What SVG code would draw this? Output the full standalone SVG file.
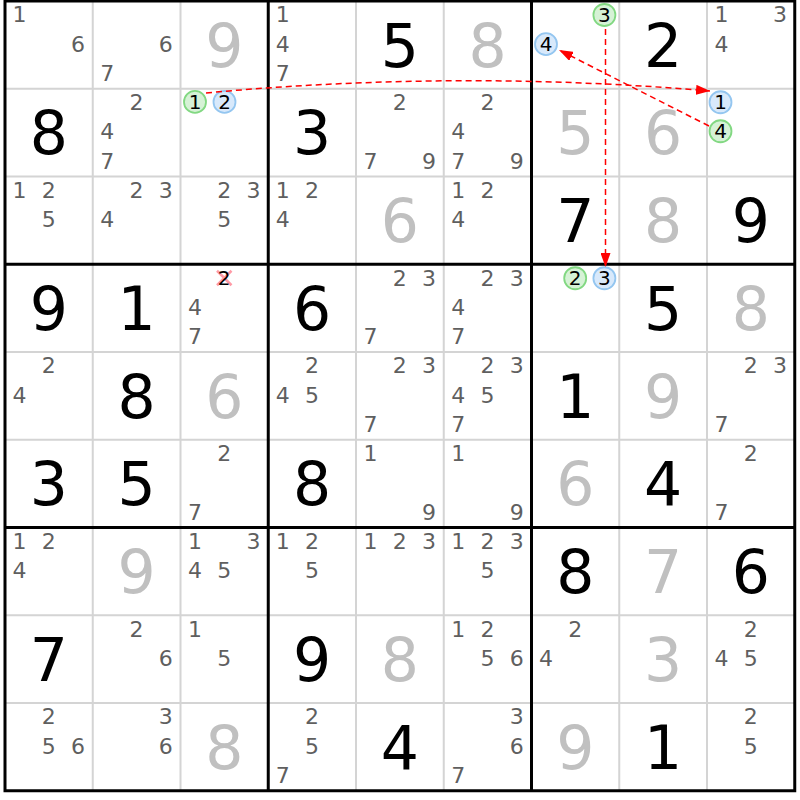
<svg xmlns="http://www.w3.org/2000/svg" width="800" height="800" viewBox="0 0 800 800">
<style>
text{font-family:"DejaVu Sans","Liberation Sans",sans-serif;text-anchor:middle}
.c{font-size:22px;fill:#5f5f5f}
.g{font-size:60px;fill:#000}
.p{font-size:60px;fill:#c0c0c0}
.k{font-size:20px;fill:#000}
.thin{stroke:#d4d4d4;stroke-width:2}
.thick{stroke:#000;stroke-width:3}
.cg{fill:#d6f2d6;stroke:#82d882;stroke-width:1.8}
.cb{fill:#d8e9fb;stroke:#94c6f0;stroke-width:1.8}
.ar{fill:none;stroke:#f00;stroke-width:1.5;stroke-dasharray:6 4}
</style>
<defs>
<marker id="ah" markerWidth="14" markerHeight="10" refX="14" refY="5" orient="auto" markerUnits="userSpaceOnUse"><path d="M0,0 L14,5 L0,10 z" fill="#f00"/></marker>
</defs>
<rect x="0" y="0" width="800" height="800" fill="#fff"/>
<g id="grid">
<path class="thin" d="M92.75,1V790.75M180.5,1V790.75M356,1V790.75M443.75,1V790.75M619.25,1V790.75M707,1V790.75M5,88.75H794.75M5,176.5H794.75M5,352H794.75M5,439.75H794.75M5,615.25H794.75M5,703H794.75"/>
<path class="thick" d="M268.25,1V790.75M531.5,1V790.75M5,264.25H794.75M5,527.5H794.75"/>
<rect class="thick" x="5" y="1" width="789.75" height="789.75" fill="none"/>
</g>
<g id="cells">
<!-- row 0 -->
<g id="r0c0" transform="translate(5,1)"><text class="c" x="14.5" y="21.4">1</text><text class="c" x="72.9" y="50.6">6</text></g>
<g id="r0c1" transform="translate(92.75,1)"><text class="c" x="72.9" y="50.6">6</text><text class="c" x="14.5" y="79.8">7</text></g>
<g id="r0c2" transform="translate(180.5,1)"><text class="p" x="43.9" y="65.5">9</text></g>
<g id="r0c3" transform="translate(268.25,1)"><text class="c" x="14.5" y="21.4">1</text><text class="c" x="14.5" y="50.6">4</text><text class="c" x="14.5" y="79.8">7</text></g>
<g id="r0c4" transform="translate(356,1)"><text class="g" x="43.9" y="65.5">5</text></g>
<g id="r0c5" transform="translate(443.75,1)"><text class="p" x="43.9" y="65.5">8</text></g>
<g id="r0c6" transform="translate(531.5,1)"><circle class="cg" cx="72.9" cy="14" r="11"/><text class="k" x="72.9" y="21.2">3</text><circle class="cb" cx="14.5" cy="43.2" r="11"/><text class="k" x="14.5" y="50.4">4</text></g>
<g id="r0c7" transform="translate(619.25,1)"><text class="g" x="43.9" y="65.5">2</text></g>
<g id="r0c8" transform="translate(707,1)"><text class="c" x="14.5" y="21.4">1</text><text class="c" x="72.9" y="21.4">3</text><text class="c" x="14.5" y="50.6">4</text></g>
<!-- row 1 -->
<g id="r1c0" transform="translate(5,88.75)"><text class="g" x="43.9" y="65.5">8</text></g>
<g id="r1c1" transform="translate(92.75,88.75)"><text class="c" x="43.7" y="21.4">2</text><text class="c" x="14.5" y="50.6">4</text><text class="c" x="14.5" y="79.8">7</text></g>
<g id="r1c2" transform="translate(180.5,88.75)"><circle class="cg" cx="14.5" cy="13.2" r="11"/><text class="k" x="14.5" y="20.4">1</text><circle class="cb" cx="44" cy="13.2" r="11"/><text class="k" x="44" y="20.4">2</text></g>
<g id="r1c3" transform="translate(268.25,88.75)"><text class="g" x="43.9" y="65.5">3</text></g>
<g id="r1c4" transform="translate(356,88.75)"><text class="c" x="43.7" y="21.4">2</text><text class="c" x="14.5" y="79.8">7</text><text class="c" x="72.9" y="79.8">9</text></g>
<g id="r1c5" transform="translate(443.75,88.75)"><text class="c" x="43.7" y="21.4">2</text><text class="c" x="14.5" y="50.6">4</text><text class="c" x="14.5" y="79.8">7</text><text class="c" x="72.9" y="79.8">9</text></g>
<g id="r1c6" transform="translate(531.5,88.75)"><text class="p" x="43.9" y="65.5">5</text></g>
<g id="r1c7" transform="translate(619.25,88.75)"><text class="p" x="43.9" y="65.5">6</text></g>
<g id="r1c8" transform="translate(707,88.75)"><circle class="cb" cx="13.5" cy="13.5" r="11"/><text class="k" x="13.5" y="20.7">1</text><circle class="cg" cx="13.5" cy="42.5" r="11"/><text class="k" x="13.5" y="49.7">4</text></g>
<!-- row 2 -->
<g id="r2c0" transform="translate(5,176.5)"><text class="c" x="14.5" y="21.4">1</text><text class="c" x="43.7" y="21.4">2</text><text class="c" x="43.7" y="50.6">5</text></g>
<g id="r2c1" transform="translate(92.75,176.5)"><text class="c" x="43.7" y="21.4">2</text><text class="c" x="72.9" y="21.4">3</text><text class="c" x="14.5" y="50.6">4</text></g>
<g id="r2c2" transform="translate(180.5,176.5)"><text class="c" x="43.7" y="21.4">2</text><text class="c" x="72.9" y="21.4">3</text><text class="c" x="43.7" y="50.6">5</text></g>
<g id="r2c3" transform="translate(268.25,176.5)"><text class="c" x="14.5" y="21.4">1</text><text class="c" x="43.7" y="21.4">2</text><text class="c" x="14.5" y="50.6">4</text></g>
<g id="r2c4" transform="translate(356,176.5)"><text class="p" x="43.9" y="65.5">6</text></g>
<g id="r2c5" transform="translate(443.75,176.5)"><text class="c" x="14.5" y="21.4">1</text><text class="c" x="43.7" y="21.4">2</text><text class="c" x="14.5" y="50.6">4</text></g>
<g id="r2c6" transform="translate(531.5,176.5)"><text class="g" x="43.9" y="65.5">7</text></g>
<g id="r2c7" transform="translate(619.25,176.5)"><text class="p" x="43.9" y="65.5">8</text></g>
<g id="r2c8" transform="translate(707,176.5)"><text class="g" x="43.9" y="65.5">9</text></g>
<!-- row 3 -->
<g id="r3c0" transform="translate(5,264.25)"><text class="g" x="43.9" y="65.5">9</text></g>
<g id="r3c1" transform="translate(92.75,264.25)"><text class="g" x="43.9" y="65.5">1</text></g>
<g id="r3c2" transform="translate(180.5,264.25)"><path d="M36.5,6.5L51,21M51,6.5L36.5,21" stroke="#ff9aa6" stroke-width="2.5"/><text class="k" x="43.7" y="21.2">2</text><text class="c" x="14.5" y="50.6">4</text><text class="c" x="14.5" y="79.8">7</text></g>
<g id="r3c3" transform="translate(268.25,264.25)"><text class="g" x="43.9" y="65.5">6</text></g>
<g id="r3c4" transform="translate(356,264.25)"><text class="c" x="43.7" y="21.4">2</text><text class="c" x="72.9" y="21.4">3</text><text class="c" x="14.5" y="79.8">7</text></g>
<g id="r3c5" transform="translate(443.75,264.25)"><text class="c" x="43.7" y="21.4">2</text><text class="c" x="72.9" y="21.4">3</text><text class="c" x="14.5" y="50.6">4</text><text class="c" x="14.5" y="79.8">7</text></g>
<g id="r3c6" transform="translate(531.5,264.25)"><circle class="cg" cx="43.7" cy="14" r="11"/><text class="k" x="43.7" y="21.2">2</text><circle class="cb" cx="72.9" cy="14" r="11"/><text class="k" x="72.9" y="21.2">3</text></g>
<g id="r3c7" transform="translate(619.25,264.25)"><text class="g" x="43.9" y="65.5">5</text></g>
<g id="r3c8" transform="translate(707,264.25)"><text class="p" x="43.9" y="65.5">8</text></g>
<!-- row 4 -->
<g id="r4c0" transform="translate(5,352)"><text class="c" x="43.7" y="21.4">2</text><text class="c" x="14.5" y="50.6">4</text></g>
<g id="r4c1" transform="translate(92.75,352)"><text class="g" x="43.9" y="65.5">8</text></g>
<g id="r4c2" transform="translate(180.5,352)"><text class="p" x="43.9" y="65.5">6</text></g>
<g id="r4c3" transform="translate(268.25,352)"><text class="c" x="43.7" y="21.4">2</text><text class="c" x="14.5" y="50.6">4</text><text class="c" x="43.7" y="50.6">5</text></g>
<g id="r4c4" transform="translate(356,352)"><text class="c" x="43.7" y="21.4">2</text><text class="c" x="72.9" y="21.4">3</text><text class="c" x="14.5" y="79.8">7</text></g>
<g id="r4c5" transform="translate(443.75,352)"><text class="c" x="43.7" y="21.4">2</text><text class="c" x="72.9" y="21.4">3</text><text class="c" x="14.5" y="50.6">4</text><text class="c" x="43.7" y="50.6">5</text><text class="c" x="14.5" y="79.8">7</text></g>
<g id="r4c6" transform="translate(531.5,352)"><text class="g" x="43.9" y="65.5">1</text></g>
<g id="r4c7" transform="translate(619.25,352)"><text class="p" x="43.9" y="65.5">9</text></g>
<g id="r4c8" transform="translate(707,352)"><text class="c" x="43.7" y="21.4">2</text><text class="c" x="72.9" y="21.4">3</text><text class="c" x="14.5" y="79.8">7</text></g>
<!-- row 5 -->
<g id="r5c0" transform="translate(5,439.75)"><text class="g" x="43.9" y="65.5">3</text></g>
<g id="r5c1" transform="translate(92.75,439.75)"><text class="g" x="43.9" y="65.5">5</text></g>
<g id="r5c2" transform="translate(180.5,439.75)"><text class="c" x="43.7" y="21.4">2</text><text class="c" x="14.5" y="79.8">7</text></g>
<g id="r5c3" transform="translate(268.25,439.75)"><text class="g" x="43.9" y="65.5">8</text></g>
<g id="r5c4" transform="translate(356,439.75)"><text class="c" x="14.5" y="21.4">1</text><text class="c" x="72.9" y="79.8">9</text></g>
<g id="r5c5" transform="translate(443.75,439.75)"><text class="c" x="14.5" y="21.4">1</text><text class="c" x="72.9" y="79.8">9</text></g>
<g id="r5c6" transform="translate(531.5,439.75)"><text class="p" x="43.9" y="65.5">6</text></g>
<g id="r5c7" transform="translate(619.25,439.75)"><text class="g" x="43.9" y="65.5">4</text></g>
<g id="r5c8" transform="translate(707,439.75)"><text class="c" x="43.7" y="21.4">2</text><text class="c" x="14.5" y="79.8">7</text></g>
<!-- row 6 -->
<g id="r6c0" transform="translate(5,527.5)"><text class="c" x="14.5" y="21.4">1</text><text class="c" x="43.7" y="21.4">2</text><text class="c" x="14.5" y="50.6">4</text></g>
<g id="r6c1" transform="translate(92.75,527.5)"><text class="p" x="43.9" y="65.5">9</text></g>
<g id="r6c2" transform="translate(180.5,527.5)"><text class="c" x="14.5" y="21.4">1</text><text class="c" x="72.9" y="21.4">3</text><text class="c" x="14.5" y="50.6">4</text><text class="c" x="43.7" y="50.6">5</text></g>
<g id="r6c3" transform="translate(268.25,527.5)"><text class="c" x="14.5" y="21.4">1</text><text class="c" x="43.7" y="21.4">2</text><text class="c" x="43.7" y="50.6">5</text></g>
<g id="r6c4" transform="translate(356,527.5)"><text class="c" x="14.5" y="21.4">1</text><text class="c" x="43.7" y="21.4">2</text><text class="c" x="72.9" y="21.4">3</text></g>
<g id="r6c5" transform="translate(443.75,527.5)"><text class="c" x="14.5" y="21.4">1</text><text class="c" x="43.7" y="21.4">2</text><text class="c" x="72.9" y="21.4">3</text><text class="c" x="43.7" y="50.6">5</text></g>
<g id="r6c6" transform="translate(531.5,527.5)"><text class="g" x="43.9" y="65.5">8</text></g>
<g id="r6c7" transform="translate(619.25,527.5)"><text class="p" x="43.9" y="65.5">7</text></g>
<g id="r6c8" transform="translate(707,527.5)"><text class="g" x="43.9" y="65.5">6</text></g>
<!-- row 7 -->
<g id="r7c0" transform="translate(5,615.25)"><text class="g" x="43.9" y="65.5">7</text></g>
<g id="r7c1" transform="translate(92.75,615.25)"><text class="c" x="43.7" y="21.4">2</text><text class="c" x="72.9" y="50.6">6</text></g>
<g id="r7c2" transform="translate(180.5,615.25)"><text class="c" x="14.5" y="21.4">1</text><text class="c" x="43.7" y="50.6">5</text></g>
<g id="r7c3" transform="translate(268.25,615.25)"><text class="g" x="43.9" y="65.5">9</text></g>
<g id="r7c4" transform="translate(356,615.25)"><text class="p" x="43.9" y="65.5">8</text></g>
<g id="r7c5" transform="translate(443.75,615.25)"><text class="c" x="14.5" y="21.4">1</text><text class="c" x="43.7" y="21.4">2</text><text class="c" x="43.7" y="50.6">5</text><text class="c" x="72.9" y="50.6">6</text></g>
<g id="r7c6" transform="translate(531.5,615.25)"><text class="c" x="43.7" y="21.4">2</text><text class="c" x="14.5" y="50.6">4</text></g>
<g id="r7c7" transform="translate(619.25,615.25)"><text class="p" x="43.9" y="65.5">3</text></g>
<g id="r7c8" transform="translate(707,615.25)"><text class="c" x="43.7" y="21.4">2</text><text class="c" x="14.5" y="50.6">4</text><text class="c" x="43.7" y="50.6">5</text></g>
<!-- row 8 -->
<g id="r8c0" transform="translate(5,703)"><text class="c" x="43.7" y="21.4">2</text><text class="c" x="43.7" y="50.6">5</text><text class="c" x="72.9" y="50.6">6</text></g>
<g id="r8c1" transform="translate(92.75,703)"><text class="c" x="72.9" y="21.4">3</text><text class="c" x="72.9" y="50.6">6</text></g>
<g id="r8c2" transform="translate(180.5,703)"><text class="p" x="43.9" y="65.5">8</text></g>
<g id="r8c3" transform="translate(268.25,703)"><text class="c" x="43.7" y="21.4">2</text><text class="c" x="43.7" y="50.6">5</text><text class="c" x="14.5" y="79.8">7</text></g>
<g id="r8c4" transform="translate(356,703)"><text class="g" x="43.9" y="65.5">4</text></g>
<g id="r8c5" transform="translate(443.75,703)"><text class="c" x="72.9" y="21.4">3</text><text class="c" x="72.9" y="50.6">6</text><text class="c" x="14.5" y="79.8">7</text></g>
<g id="r8c6" transform="translate(531.5,703)"><text class="p" x="43.9" y="65.5">9</text></g>
<g id="r8c7" transform="translate(619.25,703)"><text class="g" x="43.9" y="65.5">1</text></g>
<g id="r8c8" transform="translate(707,703)"><text class="c" x="43.7" y="21.4">2</text><text class="c" x="43.7" y="50.6">5</text></g>
</g>
<g id="connectors">
<path class="ar" d="M206,93 Q458,69.5 710,91" marker-end="url(#ah)"/>
<path class="ar" d="M709,126 L559,50" marker-end="url(#ah)"/>
<path class="ar" d="M605.5,29 L605.5,267" marker-end="url(#ah)"/>
</g>
</svg>
